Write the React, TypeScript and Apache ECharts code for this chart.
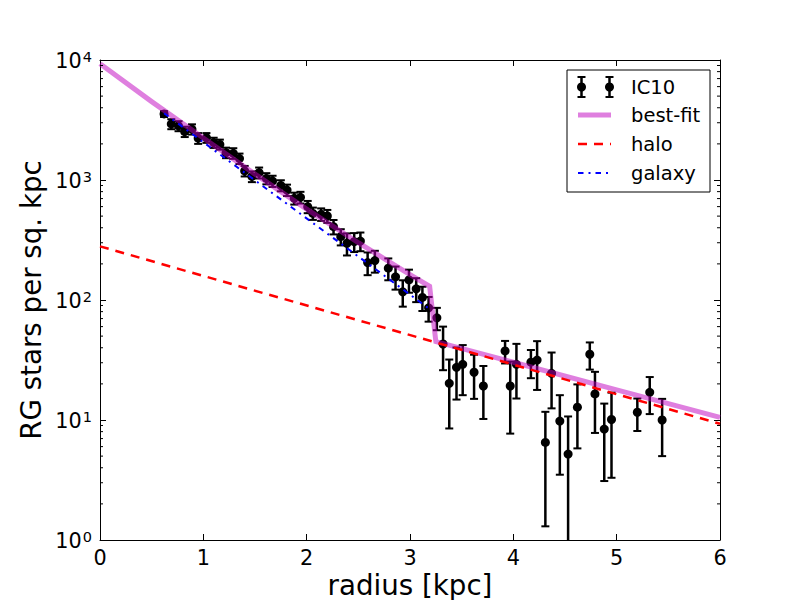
import React, { useEffect, useRef } from "react";
import * as echarts from "echarts";

const FONT = "DejaVu Sans";

// IC10 radial profile: radius [kpc], density [stars / sq. kpc], 1-sigma error
const radius = [
  0.62, 0.69, 0.76, 0.82, 0.89, 0.95, 1.03, 1.1, 1.16, 1.22, 1.29, 1.35, 1.4, 1.47, 1.54, 1.61, 1.67, 1.75,
  1.81, 1.88, 1.94, 2.01, 2.06, 2.14, 2.2, 2.26, 2.33, 2.39, 2.46, 2.52, 2.59, 2.66, 2.79, 2.86, 2.93, 2.99,
  3.06, 3.12, 3.18, 3.26, 3.32, 3.38, 3.45, 3.51, 3.62, 3.71, 3.92, 3.97, 4.03, 4.17, 4.23, 4.31, 4.37, 4.45,
  4.53, 4.62, 4.74, 4.79, 4.88, 4.95, 5.2, 5.32, 5.44,
];
const density = [
  3550, 2930, 2820, 2530, 2650, 2230, 2250, 2050, 1980, 1690, 1670, 1510, 1190, 1070, 1150, 1030, 980, 900,
  825, 704, 717, 599, 527, 518, 501, 408, 337, 297, 306, 310, 205, 213, 184, 156, 117, 147,
  124, 105, 86, 71, 43, 20.2, 27.5, 29.1, 25.0, 19.2, 37.6, 19.2, 29.1, 30.3, 31.6, 6.5, 24.5, 9.8,
  5.2, 12.8, 35.3, 16.5, 8.4, 10.1, 11.6, 17.0, 10.0,
];
const densityErr = [
  200, 280, 270, 250, 260, 230, 210, 200, 190, 170, 170, 150, 120, 110, 120, 110, 105, 95,
  90, 80, 80, 70, 62, 62, 62, 56, 52, 62, 55, 55, 44, 44, 38, 34, 29, 32,
  28, 24, 20, 15, 17, 11.7, 12.7, 13, 10, 9, 8, 11.5, 14, 8, 13.8, 5.2, 12, 6.3,
  5.5, 7, 9, 8.7, 5.3, 6.8, 3.5, 5.8, 5,
];

// model curves
const bestFitR = [0, 0.5, 1, 1.5, 2, 2.5, 3, 3.19, 3.25, 4, 5, 6];
const bestFitV = [9300, 4500, 2240, 1120, 572, 300, 163, 130, 45, 30.3, 17.8, 10.5];
const haloR = [0, 6];
const haloV = [280, 9.3];
const galaxyR = [0.62, 3.19];
const galaxyV = [3600, 84];

// axes
const xMin = 0;
const xMax = 6;
const xStep = 1;
const yMin = 1;
const yMax = 10000;
const minorMantissas = [2, 3, 4, 5, 6, 7, 8, 9];
const minorDecades = [1, 10, 100, 1000];

const BEST_COLOR = "#bf00bf";
const HALO_COLOR = "#ff0000";
const GALAXY_COLOR = "#0000ff";
const HALO_DASH = [9, 7];
const GALAXY_DASH = [5.5, 5, 2, 5];

export default function App() {
  const ref = useRef<HTMLDivElement>(null);

  useEffect(() => {
    if (!ref.current) return;
    const chart = echarts.init(ref.current, undefined, { renderer: "svg" });

    const points = radius.map((r, i) => [r, density[i], densityErr[i]]);
    const minorTicks: number[][] = [];
    minorDecades.forEach((d) => minorMantissas.forEach((m) => minorTicks.push([0, m * d])));

    const baseX = {
      type: "value",
      min: xMin,
      max: xMax,
      interval: xStep,
      splitLine: { show: false },
      axisLine: { show: true, onZero: false, lineStyle: { color: "#000", width: 1 } },
      axisTick: { show: true, inside: true, length: 6, lineStyle: { color: "#000", width: 1 } },
    };
    const baseY = {
      type: "log",
      logBase: 10,
      min: yMin,
      max: yMax,
      splitLine: { show: false },
      minorTick: { show: false },
      axisLine: { show: true, onZero: false, lineStyle: { color: "#000", width: 1 } },
      axisTick: { show: true, inside: true, length: 6, lineStyle: { color: "#000", width: 1 } },
    };

    const errStyle = { stroke: "#000", lineWidth: 2.5 };
    const capStyle = { stroke: "#000", lineWidth: 2 };

    const legendX = 567;
    const legendY = 70;
    const legendW = 143;
    const legendH = 122;
    const rowY = [87, 115, 144, 173];
    const hx1 = 578;
    const hx2 = 611;
    const textX = 631;
    const legendFont = 19.5;

    const legendErr = (cx: number, cy: number) => [
      { type: "line", shape: { x1: cx, y1: cy - 10, x2: cx, y2: cy + 10 }, style: errStyle },
      { type: "line", shape: { x1: cx - 4, y1: cy - 10, x2: cx + 4, y2: cy - 10 }, style: capStyle },
      { type: "line", shape: { x1: cx - 4, y1: cy + 10, x2: cx + 4, y2: cy + 10 }, style: capStyle },
      { type: "circle", shape: { cx, cy, r: 4.5 }, style: { fill: "#000" } },
    ];
    const legendText = (text: string, y: number) => ({
      type: "text",
      x: textX,
      y,
      style: { text, fill: "#000", font: `${legendFont}px '${FONT}'`, align: "left", verticalAlign: "middle" },
    });

    chart.setOption({
      animation: false,
      backgroundColor: "#fff",
      grid: { left: 100, right: 80, top: 60, bottom: 60, containLabel: false },
      xAxis: [
        {
          ...baseX,
          position: "bottom",
          axisLabel: { show: true, color: "#000", fontSize: 20.8, fontFamily: FONT, margin: 7 },
        },
        { ...baseX, position: "top", axisLabel: { show: false } },
      ],
      yAxis: [
        {
          ...baseY,
          position: "left",
          axisLabel: {
            show: true,
            margin: 8,
            formatter: (v: number) => `{b|10}{s|${Math.round(Math.log10(v))}}`,
            rich: {
              b: { fontSize: 20.8, fontFamily: FONT, color: "#000", lineHeight: 22, verticalAlign: "bottom" },
              s: { fontSize: 14.5, fontFamily: FONT, color: "#000", lineHeight: 22, verticalAlign: "top", padding: [0, 0, 6, 1] },
            },
          },
        },
        { ...baseY, position: "right", axisLabel: { show: false } },
      ],
      series: [
        {
          type: "custom",
          name: "IC10 errors",
          xAxisIndex: 0,
          yAxisIndex: 0,
          silent: true,
          data: points,
          renderItem: (params: any, api: any) => {
            const x = api.value(0);
            const v = api.value(1);
            const e = api.value(2);
            const cs = params.coordSys;
            const bottom = cs.y + cs.height;
            const hi = api.coord([x, v + e]);
            const loV = v - e;
            const lo = loV > 0 ? api.coord([x, loV]) : [hi[0], bottom];
            const loY = Math.min(lo[1], bottom);
            const children: any[] = [
              { type: "line", shape: { x1: hi[0], y1: hi[1], x2: hi[0], y2: loY }, style: errStyle },
              { type: "line", shape: { x1: hi[0] - 4, y1: hi[1], x2: hi[0] + 4, y2: hi[1] }, style: capStyle },
            ];
            if (loV > 0 && lo[1] <= bottom) {
              children.push({ type: "line", shape: { x1: hi[0] - 4, y1: lo[1], x2: hi[0] + 4, y2: lo[1] }, style: capStyle });
            }
            return { type: "group", children };
          },
          z: 2,
        },
        {
          type: "scatter",
          name: "IC10",
          data: points.map((p) => [p[0], p[1]]),
          symbol: "circle",
          symbolSize: 9,
          itemStyle: { color: "#000", opacity: 1 },
          silent: true,
          z: 2,
        },
        {
          type: "line",
          name: "best-fit",
          data: bestFitR.map((r, i) => [r, bestFitV[i]]),
          showSymbol: false,
          symbol: "none",
          lineStyle: { color: BEST_COLOR, width: 5, opacity: 0.5, cap: "butt", join: "miter" },
          silent: true,
          z: 3,
        },
        {
          type: "line",
          name: "halo",
          data: haloR.map((r, i) => [r, haloV[i]]),
          showSymbol: false,
          symbol: "none",
          lineStyle: { color: HALO_COLOR, width: 2.5, type: HALO_DASH },
          silent: true,
          z: 4,
        },
        {
          type: "line",
          name: "galaxy",
          data: galaxyR.map((r, i) => [r, galaxyV[i]]),
          showSymbol: false,
          symbol: "none",
          lineStyle: { color: GALAXY_COLOR, width: 2, type: GALAXY_DASH },
          silent: true,
          z: 4,
        },
        {
          type: "custom",
          name: "minor ticks",
          xAxisIndex: 0,
          yAxisIndex: 0,
          silent: true,
          data: minorTicks,
          renderItem: (params: any, api: any) => {
            const cs = params.coordSys;
            const y = api.coord([0, api.value(1)])[1];
            const st = { stroke: "#000", lineWidth: 1 };
            return {
              type: "group",
              children: [
                { type: "line", shape: { x1: cs.x, y1: y, x2: cs.x + 3, y2: y }, style: st },
                { type: "line", shape: { x1: cs.x + cs.width - 3, y1: y, x2: cs.x + cs.width, y2: y }, style: st },
              ],
            };
          },
          z: 5,
        },
      ],
      graphic: [
        {
          type: "text",
          x: 410,
          y: 585,
          style: { text: "radius [kpc]", fill: "#000", font: `27.7px '${FONT}'`, align: "center", verticalAlign: "middle" },
          z: 100,
        },
        {
          type: "text",
          x: 31,
          y: 300,
          rotation: Math.PI / 2,
          style: { text: "RG stars per sq. kpc", fill: "#000", font: `27.7px '${FONT}'`, align: "center", verticalAlign: "middle" },
          z: 100,
        },
        {
          type: "group",
          z: 100,
          children: [
            {
              type: "rect",
              shape: { x: legendX, y: legendY, width: legendW, height: legendH },
              style: { fill: "#fff", stroke: "#000", lineWidth: 1 },
            },
            ...legendErr(581.5, rowY[0]),
            ...legendErr(609.5, rowY[0]),
            legendText("IC10", rowY[0]),
            {
              type: "line",
              shape: { x1: hx1, y1: rowY[1], x2: hx2, y2: rowY[1] },
              style: { stroke: BEST_COLOR, lineWidth: 5, opacity: 0.5 },
            },
            legendText("best-fit", rowY[1]),
            {
              type: "line",
              shape: { x1: hx1, y1: rowY[2], x2: hx2, y2: rowY[2] },
              style: { stroke: HALO_COLOR, lineWidth: 2.5, lineDash: HALO_DASH },
            },
            legendText("halo", rowY[2]),
            {
              type: "line",
              shape: { x1: hx1, y1: rowY[3], x2: hx2, y2: rowY[3] },
              style: { stroke: GALAXY_COLOR, lineWidth: 2, lineDash: GALAXY_DASH },
            },
            legendText("galaxy", rowY[3]),
          ],
        },
      ],
    });

    return () => chart.dispose();
  }, []);

  return <div ref={ref} style={{ position: "absolute", left: 0, top: 0, width: 800, height: 600 }} />;
}
